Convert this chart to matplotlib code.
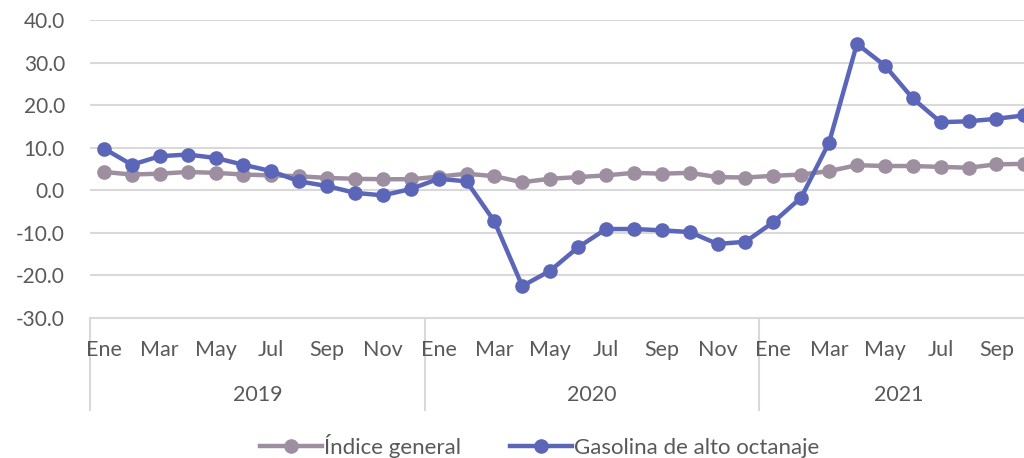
import numpy as np
import matplotlib
matplotlib.use("Agg")
import matplotlib.pyplot as plt
import matplotlib.transforms as mtransforms

plt.rcParams['font.family'] = ['Lato', 'DejaVu Sans']

months = ['Ene', 'Feb', 'Mar', 'Abr', 'May', 'Jun', 'Jul', 'Ago', 'Sep', 'Oct', 'Nov', 'Dic']
years = ['2019', '2020', '2021']
n_last = 10  # 2021 runs through Oct

indice_general = [4.3, 3.7, 3.9, 4.3, 4.1, 3.7, 3.5, 3.3, 2.9, 2.7, 2.6, 2.6,
                  3.2, 3.9, 3.3, 1.9, 2.7, 3.1, 3.5, 4.1, 3.9, 4.1, 3.1, 3.0,
                  3.4, 3.7, 4.5, 5.9, 5.7, 5.7, 5.5, 5.3, 6.1, 6.2]
gasolina = [9.8, 6.0, 8.0, 8.4, 7.6, 6.0, 4.5, 2.1, 1.0, -0.6, -1.2, 0.3,
            2.7, 2.1, -7.3, -22.5, -18.9, -13.4, -9.1, -9.1, -9.4, -9.8, -12.6, -12.1,
            -7.5, -1.7, 11.2, 34.4, 29.3, 21.6, 16.0, 16.2, 16.8, 17.6]

grey = '#9e8fa0'
blue = '#5b66b8'
text_col = '#595959'
grid_col = '#d9d9d9'

fig = plt.figure(figsize=(10.24, 4.58), dpi=100)
ax = fig.add_axes([90 / 1024, 1 - 318 / 458, 1 - 90 / 1024, 298 / 458])

x = np.arange(len(gasolina))
ax.plot(x, indice_general, color=grey, lw=3.2, marker='o', ms=9.5, label='Índice general', zorder=3)
ax.plot(x, gasolina, color=blue, lw=3.2, marker='o', ms=9.5, label='Gasolina de alto octanaje', zorder=4)

ax.set_ylim(-30, 40)
ax.set_yticks(np.arange(-30, 41, 10))
ax.set_yticklabels(['%.1f' % v for v in np.arange(-30, 41, 10)], color=text_col, fontsize=15)
ax.set_xlim(-0.5, 32.99)
ax.set_xticks([])
ax.tick_params(axis='y', length=0, pad=18)
for v in range(-20, 41, 10):
    ax.axhline(v, color=grid_col, lw=1.5, zorder=1)
for s in ['top', 'right', 'left']:
    ax.spines[s].set_visible(False)
ax.spines['bottom'].set_color(grid_col)
ax.spines['bottom'].set_linewidth(1.5)

trans = mtransforms.blended_transform_factory(ax.transData, ax.transAxes)
for i in range(len(gasolina)):
    m = i % 12
    if m % 2 == 0:
        ax.text(i, -0.107, months[m], transform=trans, ha='center', va='center',
                color=text_col, fontsize=15.5)
for k, yr in enumerate(years):
    start = 12 * k
    end = 12 * k + (11 if k < 2 else n_last - 1)
    ax.text((start + end) / 2, -0.258, yr, transform=trans, ha='center', va='center',
            color=text_col, fontsize=15.5)
    ax.plot([start - 0.5, start - 0.5], [0, -0.309], transform=trans, color=grid_col,
            lw=1.5, clip_on=False)

fig.legend(loc='center', bbox_to_anchor=(0.527, 0.026), ncol=2, frameon=False,
           fontsize=16, handlelength=2.8, columnspacing=2.2, handletextpad=0.1,
           labelcolor=text_col)

fig.savefig('out.png', dpi=100)
